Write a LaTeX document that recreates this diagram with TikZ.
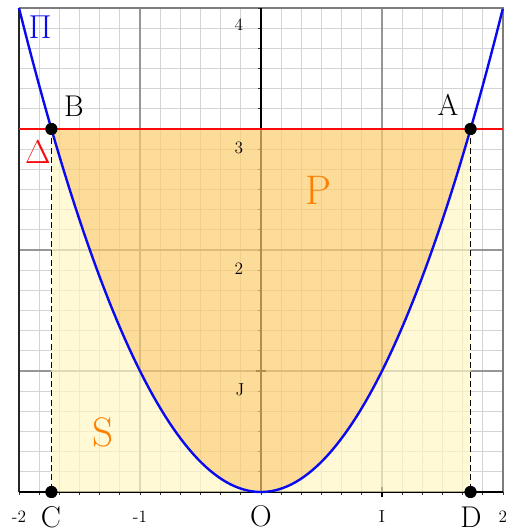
\documentclass[tikz,border=0pt]{standalone}
\usetikzlibrary{calc}
\definecolor{minorgray}{RGB}{212,212,212}
\definecolor{majorgray}{RGB}{150,150,150}
\definecolor{framegray}{RGB}{125,125,125}
\definecolor{fillorange}{RGB}{252,205,109}
\definecolor{fillyellow}{RGB}{255,246,196}
\definecolor{txtorange}{RGB}{255,128,0}
\definecolor{pblue}{RGB}{10,10,240}
\definecolor{dred}{RGB}{250,10,10}
\tikzset{
  minorgrid/.style={minorgray, line width=0.75pt},
  majorgrid/.style={majorgray, line width=1pt},
  axisline/.style={black, line width=0.9pt},
  tickmark/.style={black!80, line width=0.5pt},
  dot/.style={circle, fill=black, inner sep=0pt, minimum size=9pt},
  biglbl/.style={font=\fontsize{22.5}{26}\selectfont, inner sep=0pt},
  greeklbl/.style={font=\fontsize{28}{32}\selectfont, inner sep=0pt},
  smalllbl/.style={font=\fontsize{13}{15}\selectfont, inner sep=0pt},
  regionlbl/.style={font=\fontsize{31}{36}\selectfont, text=txtorange, inner sep=0pt},
  dashline/.style={black, line width=0.95pt, dash pattern=on 4.5pt off 2.5pt},
}
\begin{document}
\begin{tikzpicture}[x=90.75pt, y=90.75pt]
\useasboundingbox (-2.1570,-0.3058) rectangle (2.0496,4.0661);
\def\rt{1.7320508}
% grid
\draw[minorgrid, step=0.1666667] (-2,0) grid (2,4);
\draw[majorgrid, step=1] (-2,0) grid (2,4);
% frame
\draw[framegray, line width=1.3pt] (-2,4) -- (2,4) -- (2,0);
\draw[black!85, line width=1.2pt] (-2,0) -- (-2,4);
% ticks
\foreach \k in {-12,...,12} {
  \draw[tickmark] (\k/6,0) -- (\k/6,-0.028);
}
\foreach \k in {1,...,24} {
  \draw[tickmark] (0,\k/6) -- (-0.028,\k/6);
}
% axes
\draw[axisline] (-2,0) -- (2,0);
\draw[axisline] (0,0) -- (0,4);
% cross markers at I and J
\draw[black, line width=0.8pt] (1,-0.045) -- (1,0.045);
\draw[black, line width=0.8pt] (-0.045,1) -- (0.045,1);
\draw[black, line width=0.8pt] (0,0.955) -- (0,1.045);
% fills
\fill[fillyellow, opacity=0.7, even odd rule]
  (-\rt,0) rectangle (\rt,3)
  (-\rt,3) -- plot[domain=-\rt:\rt, samples=80] (\x,{\x*\x}) -- cycle;
\fill[fillorange, opacity=0.7]
  (-\rt,3) -- plot[domain=-\rt:\rt, samples=80] (\x,{\x*\x}) -- cycle;
% points
\coordinate (Dl) at (-2,3);
\coordinate (Dr) at (2,3);
\node[dot] (B) at (-\rt,3) {};
\node[dot] (A) at (\rt,3) {};
\node[dot] (C) at (-\rt,0) {};
\node[dot] (D) at (\rt,0) {};
% dashed
\draw[dashline] (B.center) -- (C.center);
\draw[dashline] (A.center) -- (D.center);
% line Delta
\draw[dred, line width=1.5pt] (Dl) -- (Dr);
% parabola
\draw[pblue, line width=1.8pt] plot[domain=-2:2, samples=120] (\x,{\x*\x});
% redraw dots on top
\fill[black] (A.center) circle (4.5pt);
\fill[black] (B.center) circle (4.5pt);
\fill[black] (C.center) circle (4.5pt);
\fill[black] (D.center) circle (4.5pt);
% labels
\node[biglbl] (lA) at (1.545,3.198) {A};
\node[biglbl] (lB) at (-1.545,3.190) {B};
\node[biglbl] (lC) at (-1.736,-0.205) {C};
\node[biglbl] (lD) at (1.736,-0.205) {D};
\node[biglbl] (lO) at (0,-0.198) {O};
\node[smalllbl] (lI) at (1.0,-0.207) {I};
\node[smalllbl] (lJ) at (-0.174,0.843) {J};
\node[greeklbl, text=pblue] (lPi) at (-1.826,3.843) {$\Pi$};
\node[greeklbl, text=dred] (lDelta) at (-1.843,2.81) {$\Delta$};
\node[regionlbl] (lP) at (0.479,2.496) {P};
\node[regionlbl] (lS) at (-1.306,0.496) {S};
% tick labels
\node[smalllbl] (tm2) at (-2,-0.207) {-2};
\node[smalllbl] (tm1) at (-1,-0.207) {-1};
\node[smalllbl] (tp2) at (2,-0.207) {2};
\node[smalllbl] (ty4) at (-0.182,3.86) {4};
\node[smalllbl] (ty3) at (-0.182,2.843) {3};
\node[smalllbl] (ty2) at (-0.182,1.843) {2};
\end{tikzpicture}
\end{document}
